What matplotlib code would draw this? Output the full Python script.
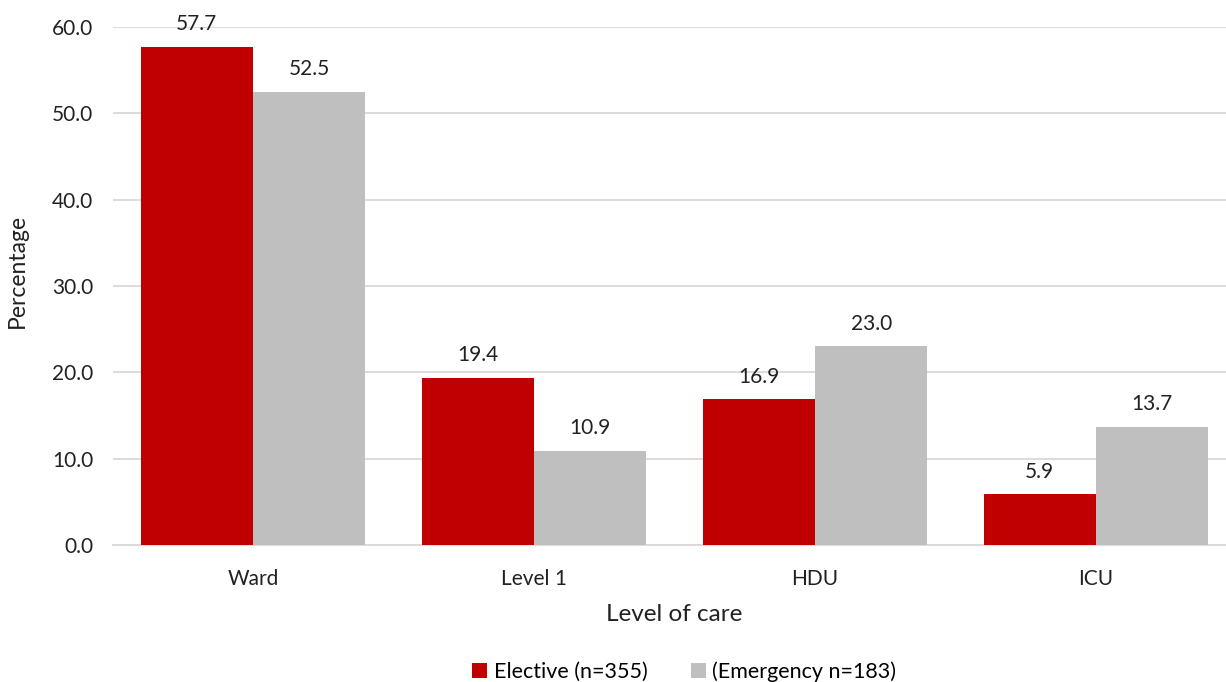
import numpy as np
import matplotlib.pyplot as plt

plt.rcParams['font.family'] = ['Lato', 'DejaVu Sans']

categories = ['Ward', 'Level 1', 'HDU', 'ICU']
elective = [57.7, 19.4, 16.9, 5.9]
emergency = [52.5, 10.9, 23.0, 13.7]
series_names = ['Elective (n=355)', '(Emergency n=183)']

fig = plt.figure(figsize=(12.26, 6.82), dpi=100)
ax = fig.add_axes([0.0918, 0.2009, 0.9168, 0.7595])

x = np.arange(len(categories))
w = 0.4
b1 = ax.bar(x - w / 2, elective, w, color='#C00000', label=series_names[0], zorder=3)
b2 = ax.bar(x + w / 2, emergency, w, color='#BFBFBF', label=series_names[1], zorder=3)

for bars in (b1, b2):
    ax.bar_label(bars, labels=[f"{v.get_height():.1f}" for v in bars],
                 padding=9, fontsize=15, color='#222222')

ax.set_xlim(-0.5, 3.5)
ax.set_ylim(0, 60)
ax.set_yticks(np.arange(0, 61, 10))
ax.set_yticklabels([f"{t:.1f}" for t in np.arange(0, 61, 10)])
ax.set_xticks(x)
ax.set_xticklabels(categories)
ax.tick_params(axis='both', length=0, labelsize=15, colors='#222222')
ax.tick_params(axis='x', pad=17)
ax.tick_params(axis='y', pad=14)

ax.yaxis.grid(True, color='#D9D9D9', linewidth=1.3, zorder=0)
for s in ['top', 'right', 'left']:
    ax.spines[s].set_visible(False)
ax.spines['bottom'].set_color('#D9D9D9')
ax.spines['bottom'].set_linewidth(1.3)

ax.set_xlabel('Level of care', fontsize=17.5, color='#222222', labelpad=11)
ax.set_ylabel('Percentage', fontsize=16.5, color='#222222', labelpad=7)
ax.yaxis.set_label_coords(-0.075, 0.53)

fig.legend(loc='lower center', bbox_to_anchor=(0.558, -0.028), ncol=2, frameon=False,
           fontsize=15.5, handlelength=0.7, handleheight=0.7, handletextpad=0.3,
           columnspacing=2.0)

fig.savefig('out.png', dpi=100)
